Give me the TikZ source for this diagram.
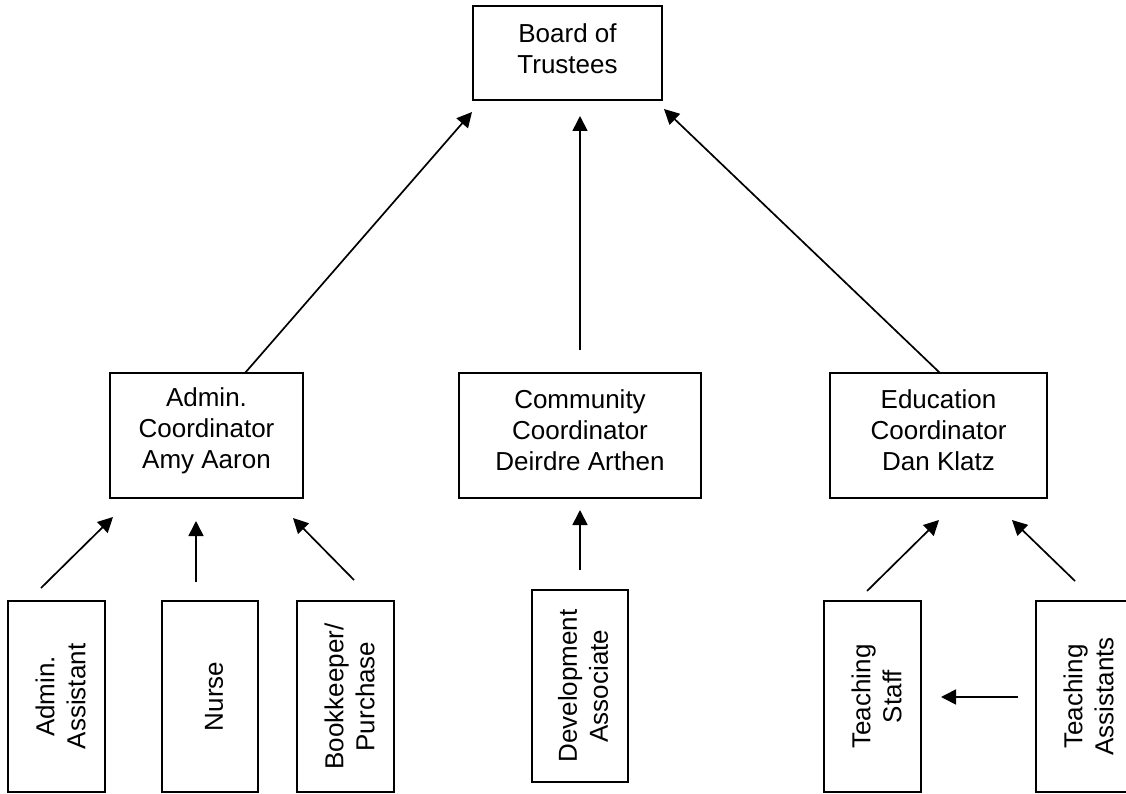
\documentclass[tikz,border=0pt]{standalone}
\usepackage{fontspec}
\setmainfont{Liberation Sans}
\usetikzlibrary{arrows.meta}
\tikzset{
  box/.style={draw=black, line width=2pt, inner sep=0pt},
  txt/.style={align=center, inner sep=0pt, font=\fontsize{26}{31}\selectfont},
  vtxt/.style={txt, rotate=90},
  conn/.style={line width=1.7pt, -{Triangle[length=15pt,width=15pt]}}
}
\begin{document}
\begin{tikzpicture}[x=1pt,y=-1pt]
\useasboundingbox (0,0) rectangle (1126,794);
% boxes
\node[box, minimum width=189pt, minimum height=94pt] (board) at (567.5,53) {};
\node[txt] (boardT) at ([yshift=4pt]board.center) {Board of\\Trustees};
\node[box, minimum width=193pt, minimum height=125pt] (admin) at (206.5,435.5) {};
\node[txt] (adminT) at ([yshift=5pt]admin.center) {Admin.\\Coordinator\\Amy Aaron};
\node[box, minimum width=242pt, minimum height=125pt] (comm) at (580,435.5) {};
\node[txt] (commT) at ([yshift=5pt]comm.center) {Community\\Coordinator\\Deirdre Arthen};
\node[box, minimum width=217pt, minimum height=125pt] (edu) at (938.5,435.5) {};
\node[txt] (eduT) at ([yshift=5pt]edu.center) {Education\\Coordinator\\Dan Klatz};
% bottom boxes
\node[box, minimum width=97pt, minimum height=191pt] (aa) at (56.5,696.5) {};
\node[vtxt] (aaT) at ([xshift=4pt]aa.center) {Admin.\\Assistant};
\node[box, minimum width=96pt, minimum height=191pt] (nurse) at (210,696.5) {};
\node[vtxt] (nurseT) at ([xshift=4pt]nurse.center) {Nurse};
\node[box, minimum width=97pt, minimum height=191pt] (book) at (345.5,696.5) {};
\node[vtxt] (bookT) at ([xshift=4pt]book.center) {Bookkeeper/\\Purchase};
\node[box, minimum width=96pt, minimum height=192pt] (dev) at (580,686) {};
\node[vtxt] (devT) at ([xshift=3pt]dev.center) {Development\\Associate};
\node[box, minimum width=97pt, minimum height=191pt] (ts) at (872.5,696.5) {};
\node[vtxt] (tsT) at ([xshift=4pt]ts.center) {Teaching\\Staff};
\node[box, minimum width=97pt, minimum height=191pt] (ta) at (1084.5,696.5) {};
\node[vtxt] (taT) at ([xshift=4pt]ta.center) {Teaching\\Assistants};
% connector end points
\coordinate (a1) at (245,373);  \coordinate (b1) at (472,112);
\coordinate (a2) at (580,350);  \coordinate (b2) at (580,116);
\coordinate (a3) at (940,373);  \coordinate (b3) at (664,109);
\coordinate (a4) at (41,588);   \coordinate (b4) at (113,517);
\coordinate (a5) at (196,582);  \coordinate (b5) at (196,521);
\coordinate (a6) at (354,580);  \coordinate (b6) at (293,518);
\coordinate (a7) at (580,570);  \coordinate (b7) at (580,510);
\coordinate (a8) at (867,591);  \coordinate (b8) at (939,520);
\coordinate (a9) at (1075,581); \coordinate (b9) at (1012,520);
\coordinate (a10) at (1018,697); \coordinate (b10) at (941,697);
% connectors
\draw[conn] (a1) -- (b1);
\draw[conn] (a2) -- (b2);
\draw[conn] (a3) -- (b3);
\draw[conn] (a4) -- (b4);
\draw[conn] (a5) -- (b5);
\draw[conn] (a6) -- (b6);
\draw[conn] (a7) -- (b7);
\draw[conn] (a8) -- (b8);
\draw[conn] (a9) -- (b9);
\draw[conn] (a10) -- (b10);
\end{tikzpicture}
\end{document}
